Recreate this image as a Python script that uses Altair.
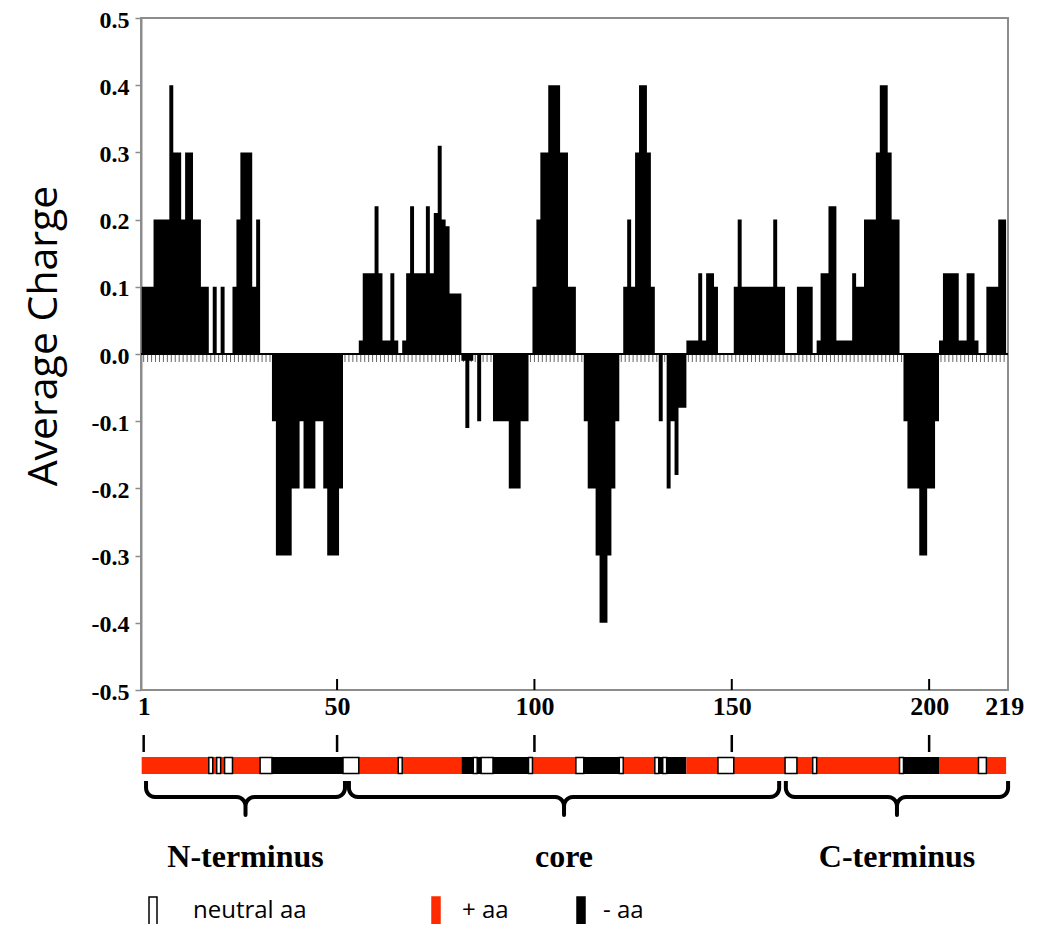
import altair as alt
import numpy as np
import pandas as pd

# ---------------- data ----------------
residues = list(range(1, 220))
charge = [
    0.1, 0.1, 0.1, 0.2, 0.2, 0.2, 0.2, 0.4, 0.3, 0.3,          # 1-10
    0.2, 0.3, 0.3, 0.2, 0.2, 0.1, 0.1, 0, 0.1, 0,              # 11-20
    0.1, 0, 0, 0.1, 0.2, 0.3, 0.3, 0.3, 0.1, 0.2,              # 21-30
    0, 0, 0, -0.1, -0.3, -0.3, -0.3, -0.3, -0.2, -0.2,         # 31-40
    -0.1, -0.2, -0.2, -0.2, -0.1, -0.1, -0.2, -0.3, -0.3, -0.3,  # 41-50
    -0.2, 0, 0, 0, 0, 0.02, 0.12, 0.12, 0.12, 0.22,            # 51-60
    0.12, 0.02, 0.02, 0.12, 0.02, 0, 0.02, 0.12, 0.22, 0.12,   # 61-70
    0.12, 0.12, 0.22, 0.12, 0.21, 0.31, 0.2, 0.19, 0.09, 0.09,  # 71-80
    0.09, -0.01, -0.11, -0.01, 0, -0.1, 0, 0, 0, -0.1,         # 81-90
    -0.1, -0.1, -0.1, -0.2, -0.2, -0.2, -0.1, -0.1, 0, 0.1,    # 91-100
    0.2, 0.3, 0.3, 0.4, 0.4, 0.4, 0.3, 0.3, 0.1, 0.1,          # 101-110
    0, 0, -0.1, -0.2, -0.2, -0.3, -0.4, -0.4, -0.3, -0.2,      # 111-120
    -0.1, 0, 0.1, 0.2, 0.1, 0.3, 0.4, 0.4, 0.3, 0.1,           # 121-130
    0, -0.1, 0, -0.2, -0.1, -0.18, -0.08, -0.08, 0.02, 0.02,   # 131-140
    0.02, 0.12, 0.02, 0.12, 0.12, 0.1, 0, 0, 0, 0,             # 141-150
    0.1, 0.2, 0.1, 0.1, 0.1, 0.1, 0.1, 0.1, 0.1, 0.1,          # 151-160
    0.2, 0.1, 0.1, 0, 0, 0, 0.1, 0.1, 0.1, 0.1,                # 161-170
    0, 0.02, 0.12, 0.12, 0.22, 0.22, 0.02, 0.02, 0.02, 0.02,   # 171-180
    0.12, 0.1, 0.1, 0.2, 0.2, 0.2, 0.3, 0.4, 0.4, 0.3,         # 181-190
    0.2, 0.2, 0, -0.1, -0.2, -0.2, -0.2, -0.3, -0.3, -0.2,     # 191-200
    -0.2, -0.1, 0.02, 0.12, 0.12, 0.12, 0.12, 0.02, 0.02, 0.12,  # 201-210
    0.12, 0.02, 0, 0, 0.1, 0.1, 0.1, 0.2, 0.2,                 # 211-219
]
x_tick_values = [1, 50, 100, 150, 200, 219]
inner_tick_values = [50, 100, 150, 200]
strip_tick_values = [1, 50, 100, 150, 200]
y_tick_values = [-0.5, -0.4, -0.3, -0.2, -0.1, 0.0, 0.1, 0.2, 0.3, 0.4, 0.5]
region_names = ["N-terminus", "core", "C-terminus"]
region_start = [1.6, 53.0, 163.7]
region_end = [52.0, 162.0, 220.0]
legend_labels = ["neutral aa", "+ aa", "- aa"]
legend_fill = ["white", "#ff2a00", "black"]
legend_stroke = ["black", "#ff2a00", "black"]

# ---------------- layout / style constants ----------------
W, H = 867, 672
X0, X1 = 0.323, 219.98
PX = W / (X1 - X0)
RED = "#ff2a00"
SERIF = "Liberation Serif"
SANS = "Open Sans"
GRAY = "#8c8c8c"

def px_to_v(p):
    return X0 + p / PX

def v_to_px(v):
    return (v - X0) * PX

def py_to_c(p):
    return 0.5 - p / H

XS = alt.Scale(domain=[X0, X1], nice=False, zero=False)
YS = alt.Scale(domain=[-0.5, 0.5], nice=False, zero=False)

AX_X = alt.Axis(values=x_tick_values, ticks=False, domain=False, grid=False,
                labelFont=SERIF, labelFontWeight="bold", labelFontSize=26,
                labelColor="black", labelPadding=3, labelFlush=False,
                labelOverlap=False, format="d")
AX_Y = alt.Axis(values=y_tick_values, grid=False, domainColor=GRAY, domainWidth=2,
                tickColor=GRAY, tickWidth=1.5, tickSize=6,
                labelFont=SERIF, labelFontWeight="bold", labelFontSize=24,
                labelColor="black", labelPadding=6, labelOffset=2,
                labelExpr="(datum.value < -0.001 ? '-' : '') + format(abs(datum.value), '.1f')")

def X(field):
    return alt.X(field, scale=XS, axis=AX_X, title=None)

def Y(field):
    return alt.Y(field, scale=YS, axis=AX_Y, title=None)

df = pd.DataFrame({"residue": residues, "charge": charge})

# step outline: left edge of each residue, plus the closing right edge
step_df = pd.DataFrame({
    "edge": [r - 0.5 for r in residues] + [residues[-1] + 0.5],
    "charge": charge + [charge[-1]],
})
step_df["z"] = 0.0

def make_runs(keys):
    out = []
    st = 0
    for i in range(1, len(keys) + 1):
        if i == len(keys) or keys[i] != keys[st]:
            out.append({"s": residues[st] - 0.5, "e": residues[i - 1] + 0.5,
                        "key": keys[st]})
            st = i
    return pd.DataFrame(out)

# ---------------- main bars (one continuous stepped area) ----------------
small_ticks = alt.Chart(df).mark_rule(color="#666666", strokeWidth=1).encode(
    x=X("residue:Q"),
    y=alt.value(H / 2 + 1),
    y2=alt.value(H / 2 + 8),
)

bars = alt.Chart(step_df).mark_area(color="black", interpolate="step-after", opacity=1).encode(
    x=X("edge:Q"), y=Y("charge:Q"), y2="z:Q",
)

zero_line = alt.Chart(pd.DataFrame({"z": [0.0]})).mark_rule(color="black", strokeWidth=2).encode(
    y=Y("z:Q")
)

inner_ticks = alt.Chart(pd.DataFrame({"t": inner_tick_values})).mark_rule(
    color="black", strokeWidth=2
).encode(x=X("t:Q"), y=alt.value(H - 11), y2=alt.value(H))

# ---------------- residue strip ----------------
sign = ["pos" if c > 0 else ("neg" if c < 0 else "zero") for c in charge]
runs_df = make_runs(sign).rename(columns={"key": "kind"})

strip_colored = alt.Chart(runs_df).transform_filter("datum.kind != 'zero'").mark_rect().encode(
    x=X("s:Q"), x2="e:Q",
    y=alt.value(739), y2=alt.value(756),
    color=alt.Color("kind:N", scale=alt.Scale(domain=["pos", "neg"], range=[RED, "black"]), legend=None),
)
strip_white = alt.Chart(runs_df).transform_filter("datum.kind == 'zero'").mark_rect(
    fill="white", stroke="black", strokeWidth=1.5
).encode(
    x=X("s:Q"), x2="e:Q",
    y=alt.value(739.5), y2=alt.value(755.5),
)

strip_ticks = alt.Chart(pd.DataFrame({"t": strip_tick_values})).mark_rule(
    color="black", strokeWidth=2.5
).encode(x=X("t:Q"), y=alt.value(717), y2=alt.value(734))

# ---------------- braces ----------------
def brace_points(xa, xb, r=9.0, yt=763.0, yb=779.0, yp=797.0):
    xc = (xa + xb) / 2
    pts = [(xa, yt)]
    def arc(cx, cy, a0, a1):
        return [(cx + r * np.cos(np.radians(a)), cy + r * np.sin(np.radians(a)))
                for a in np.linspace(a0, a1, 8)]
    pts += arc(xa + r, yb - r, 180, 90)
    pts += arc(xc - r, yb + r, 270, 360)
    pts += [(xc, yp)]
    pts += arc(xc + r, yb + r, 180, 270)
    pts += arc(xb - r, yb - r, 90, 0)
    pts += [(xb, yt)]
    return pts

brace_rows = []
for name, s, e in zip(region_names, region_start, region_end):
    for k, (px, py) in enumerate(brace_points(v_to_px(s), v_to_px(e))):
        brace_rows.append({"region": name, "k": k, "bx": px_to_v(px), "by": py_to_c(py)})
brace_df = pd.DataFrame(brace_rows)

braces = alt.Chart(brace_df).mark_line(color="black", strokeWidth=4, strokeJoin="round").encode(
    x=X("bx:Q"), y=Y("by:Q"),
    detail="region:N",
    order="k:Q",
)

region_df = pd.DataFrame({
    "region": region_names,
    "mid": [(s + e) / 2 for s, e in zip(region_start, region_end)],
})
region_text = alt.Chart(region_df).mark_text(
    font=SERIF, fontWeight="bold", fontSize=32, baseline="middle", align="center", color="black"
).encode(x=X("mid:Q"), y=alt.value(839), text="region:N")

# ---------------- legend ----------------
LEG_SYM_PX = [8, 291, 436]
LEG_TXT_PX = [52, 321, 462]
leg_df = pd.DataFrame({
    "label": legend_labels,
    "fill": legend_fill,
    "stroke": legend_stroke,
    "sx": [px_to_v(p) for p in LEG_SYM_PX],
    "sx2": [px_to_v(p + 8) for p in LEG_SYM_PX],
    "tx": [px_to_v(p) for p in LEG_TXT_PX],
})
leg_sym = alt.Chart(leg_df).mark_rect(strokeWidth=1.5).encode(
    x=X("sx:Q"), x2="sx2:Q",
    y=alt.value(879), y2=alt.value(907),
    fill=alt.Fill("fill:N", scale=None),
    stroke=alt.Stroke("stroke:N", scale=None),
)
leg_txt = alt.Chart(leg_df).mark_text(
    font=SANS, fontSize=24, align="left", baseline="middle", color="black"
).encode(x=X("tx:Q"), y=alt.value(893), text="label:N")

# ---------------- y title ----------------
ytitle = alt.Chart(pd.DataFrame({"t": ["Average Charge"]})).mark_text(
    font=SANS, fontSize=41, angle=270, align="center", baseline="middle", color="black"
).encode(x=alt.value(-96), y=alt.value(318), text="t:N")

chart = alt.layer(
    small_ticks, bars, zero_line, inner_ticks,
    strip_colored, strip_white, strip_ticks,
    braces, region_text, leg_sym, leg_txt, ytitle,
).properties(
    width=W, height=H,
    autosize=alt.AutoSizeParams(type="none"),
    padding={"left": 133, "top": 10, "right": 28, "bottom": 234},
    background="white",
).configure_view(stroke=GRAY, strokeWidth=2)

chart.save("out.html", embed_options={"renderer": "svg", "actions": False})
